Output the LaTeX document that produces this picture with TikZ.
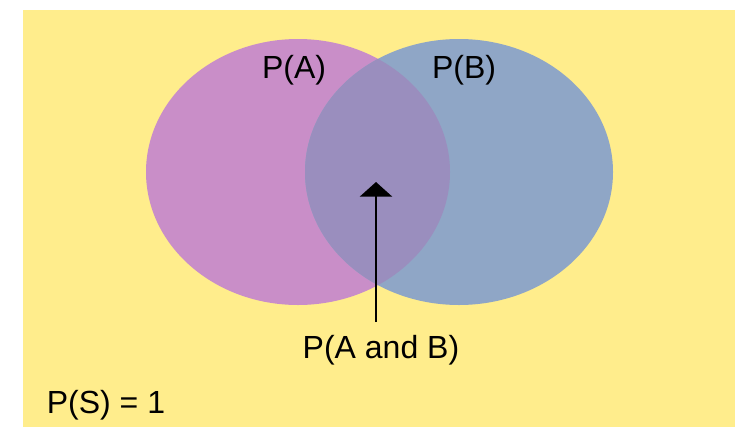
\documentclass[tikz,border=0pt]{standalone}
\usepackage{fontspec}
\setmainfont{Liberation Sans}
\usetikzlibrary{arrows.meta}
\definecolor{bgyellow}{RGB}{255,237,140}
\definecolor{setA}{RGB}{201,142,200}
\definecolor{setB}{RGB}{143,166,198}
\definecolor{setAB}{RGB}{154,142,190}
\tikzset{every picture/.style={line width=0.75pt},
  lbl/.style={inner sep=0pt,font=\fontsize{24}{28}\selectfont},
  probarrow/.style={line width=2.2pt,-{Triangle[width=24pt,length=11pt]}}}
\begin{document}
\begin{tikzpicture}[x=0.75pt,y=0.75pt,yscale=-1,xscale=1]
\useasboundingbox (0,0) rectangle (735,429);
% sample space
\fill[white] (0,0) rectangle (735,429);
\fill[bgyellow] (23,10) rectangle (735,427);
% events A and B
\fill[setA] (298,172) ellipse [x radius=152, y radius=133];
\fill[setB] (459,172) ellipse [x radius=154, y radius=133];
% intersection
\begin{scope}
\clip (298,172) ellipse [x radius=152, y radius=133];
\fill[setAB] (459,172) ellipse [x radius=154, y radius=133];
\end{scope}
% labels
\node[lbl] (pA) at (294,70) {P(A)};
\node[lbl] (pB) at (464,70) {P(B)};
\node[lbl] (pAB) at (381,350) {P(A and B)};
\node[lbl] (pS) at (106,405) {P(S) = 1};
% arrow into the overlap
\coordinate (tailAB) at (376,322);
\coordinate (tipAB) at (376,182);
\draw[probarrow] (tailAB) -- (tipAB);
\end{tikzpicture}
\end{document}
